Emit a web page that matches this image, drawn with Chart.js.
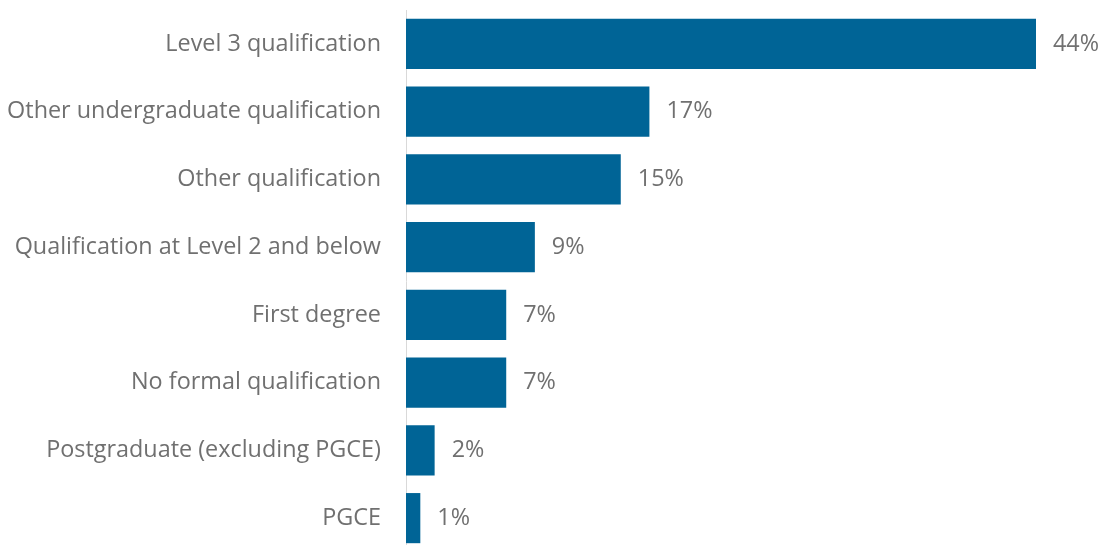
<!DOCTYPE html>
<html>
<head>
<meta charset="utf-8">
<script src="https://cdn.jsdelivr.net/npm/chart.js@4/dist/chart.umd.min.js"></script>
<style>
  html, body { margin: 0; padding: 0; overflow: hidden; background: #fff; }
  #wrap { position: relative; width: 1101px; height: 552px; }
</style>
</head>
<body>
<div id="wrap"><canvas id="qualChart"></canvas></div>
<script>
// Highest qualification held (percent)
const categories = [
  'Level 3 qualification',
  'Other undergraduate qualification',
  'Other qualification',
  'Qualification at Level 2 and below',
  'First degree',
  'No formal qualification',
  'Postgraduate (excluding PGCE)',
  'PGCE'
];
const shares = [44, 17, 15, 9, 7, 7, 2, 1];

const textColour = '#707070';
const labelFont = { family: 'Open Sans', size: 23.4 };

// Draws the "44%" style labels just past the end of each bar
const valueLabels = {
  id: 'valueLabels',
  afterDatasetsDraw(chart) {
    const ctx = chart.ctx;
    const meta = chart.getDatasetMeta(0);
    ctx.save();
    ctx.font = labelFont.size + 'px ' + labelFont.family;
    ctx.fillStyle = textColour;
    ctx.textAlign = 'left';
    ctx.textBaseline = 'middle';
    meta.data.forEach((bar, i) => {
      ctx.fillText(shares[i] + '%', bar.x + 17, bar.y);
    });
    ctx.restore();
  }
};

new Chart(document.getElementById('qualChart'), {
  type: 'bar',
  data: {
    labels: categories,
    datasets: [{
      data: shares,
      backgroundColor: '#006496',
      barPercentage: 0.74,
      categoryPercentage: 1
    }]
  },
  options: {
    indexAxis: 'y',
    responsive: true,
    maintainAspectRatio: false,
    animation: false,
    layout: { padding: { top: 10, right: 65, left: 0, bottom: 0 } },
    plugins: {
      legend: { display: false },
      tooltip: { enabled: false }
    },
    scales: {
      x: {
        display: false,
        min: 0,
        max: 44
      },
      y: {
        afterFit: function(scale) {
          // fixed axis position, no extra room for half labels
          scale.width = 406;
          scale.paddingTop = 0;
          scale.paddingBottom = 0;
        },
        grid: { display: false, drawTicks: false },
        border: { display: true, color: '#d9d9d9', width: 1 },
        ticks: {
          color: textColour,
          font: labelFont,
          padding: 25
        }
      }
    }
  },
  plugins: [valueLabels]
});
</script>
</body>
</html>
